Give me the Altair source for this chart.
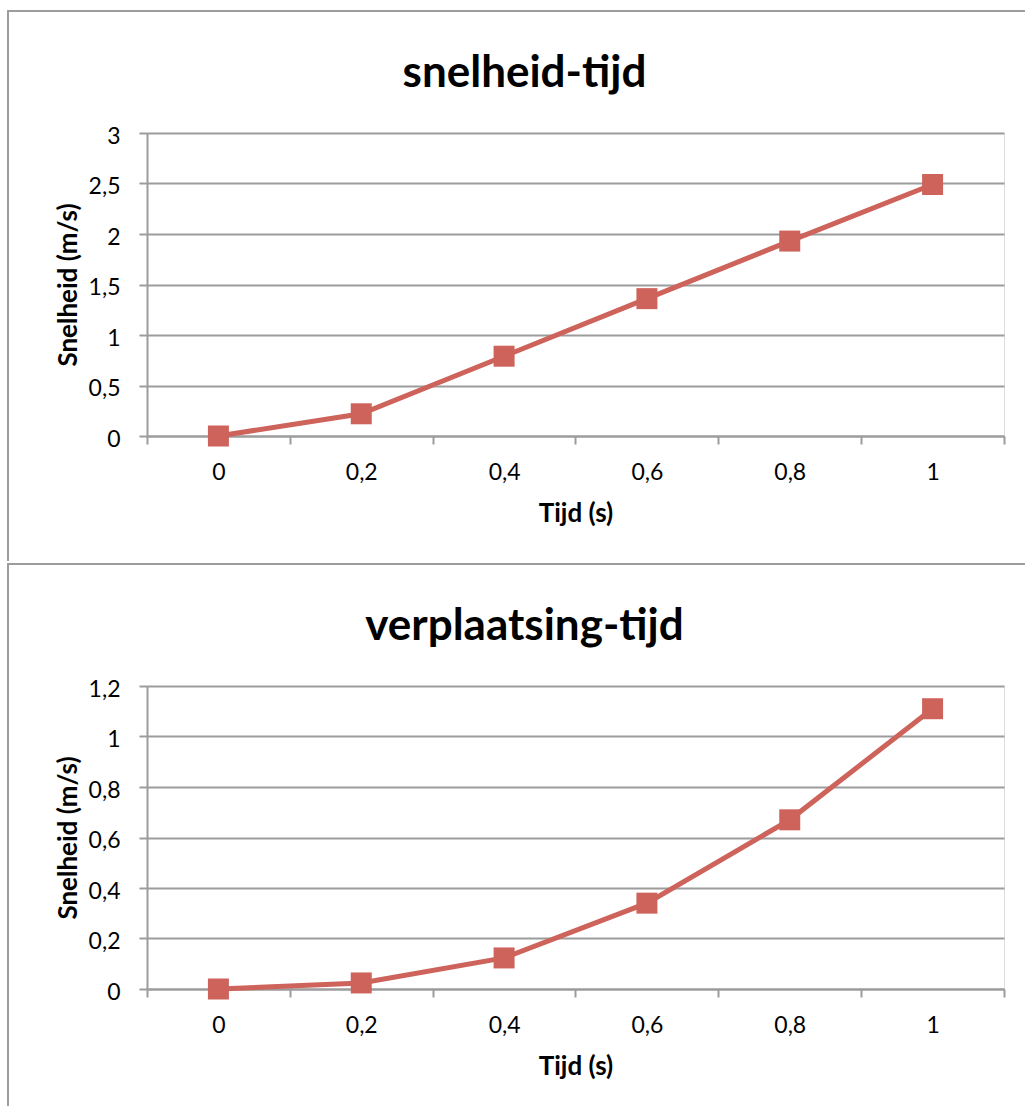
import altair as alt
import pandas as pd

# Measured values
tijd = [0, 0.2, 0.4, 0.6, 0.8, 1.0]
snelheid = [0, 0.22, 0.79, 1.36, 1.93, 2.49]
verplaatsing = [0, 0.024, 0.123, 0.34, 0.67, 1.11]

# Category boundaries (tick marks between the time labels)
tijd_grenzen = [-0.1, 0.1, 0.3, 0.5, 0.7, 0.9, 1.1]

PLOT_W = 857
PLOT_H = 303
RED = "#CD635A"
GREY = "#9c9c9c"
FONT = "Lato"
COMMA = "replace(format(datum.value, '.1~f'), '.', ',')"


def border(x, x2, y, y2):
    return alt.Chart(pd.DataFrame({"b": [0]})).mark_rule(
        color=GREY, strokeWidth=2, strokeCap="square"
    ).encode(x=alt.value(x), x2=alt.value(x2), y=alt.value(y), y2=alt.value(y2))


def panel(title, values, ymax, ystep, left_end):
    df = pd.DataFrame({"tijd": tijd, "waarde": values})
    xscale = alt.Scale(domain=[-0.1, 1.1], nice=False, zero=False)
    yscale = alt.Scale(domain=[0, ymax], nice=False)
    n = int(round(ymax / ystep))
    yvals = [round(i * ystep, 2) for i in range(n + 1)]

    y_enc = alt.Y(
        "waarde:Q",
        scale=yscale,
        axis=alt.Axis(
            values=yvals,
            grid=True, gridColor=GREY, gridWidth=2,
            domainColor=GREY, domainWidth=2,
            tickColor=GREY, tickWidth=2, tickSize=8,
            labelExpr=COMMA, labelFont=FONT, labelFontSize=23,
            labelColor="black", labelPadding=19, labelOffset=3,
            title="Snelheid (m/s)", titleFont=FONT, titleFontSize=26,
            titleFontWeight="bold", titleColor="black",
            titleX=-79, titleY=PLOT_H / 2, titleBaseline="middle",
        ),
    )

    line = alt.Chart(df).mark_line(color=RED, strokeWidth=5).encode(
        x=alt.X(
            "tijd:Q",
            scale=xscale,
            axis=alt.Axis(
                orient="bottom", values=tijd_grenzen, labels=False, title=None,
                grid=False, domainColor=GREY, domainWidth=2,
                tickColor=GREY, tickWidth=2, tickSize=8,
            ),
        ),
        y=y_enc,
    )

    points = alt.Chart(df).mark_square(size=441, color=RED, opacity=1).encode(
        x=alt.X(
            "tijd:Q",
            scale=xscale,
            axis=alt.Axis(
                orient="bottom", values=tijd, ticks=False, tickSize=0,
                domain=False, grid=False,
                labelExpr=COMMA, labelFont=FONT, labelFontSize=23,
                labelColor="black", labelPadding=25,
                title="Tijd (s)", titleFont=FONT, titleFontSize=26,
                titleFontWeight="bold", titleColor="black",
                titleX=PLOT_W / 2, titleY=77, titleBaseline="middle",
            ),
        ),
        y=y_enc,
    )

    frame = [
        border(-139, -139, -122, left_end),
        border(-139, PLOT_W + 20, -122, -122),
    ]

    return alt.layer(*frame, line, points).resolve_axis(x="independent").properties(
        width=PLOT_W,
        height=PLOT_H,
        title=alt.Title(
            title, font=FONT, fontSize=44, fontWeight="bold", color="black",
            anchor="middle", baseline="alphabetic", offset=-121, dx=-51,
        ),
    )


top = panel("snelheid-tijd", snelheid, 3, 0.5, PLOT_H + 124)
bottom = panel("verplaatsing-tijd", verplaatsing, 1.2, 0.2, PLOT_H + 116)

chart = alt.vconcat(top, bottom, spacing=0).properties(
    padding={"left": 6, "top": 9, "right": 0, "bottom": 0}
).configure_view(stroke=None).configure(background="white")

chart.save("out.html", embed_options={"renderer": "svg", "actions": False})
